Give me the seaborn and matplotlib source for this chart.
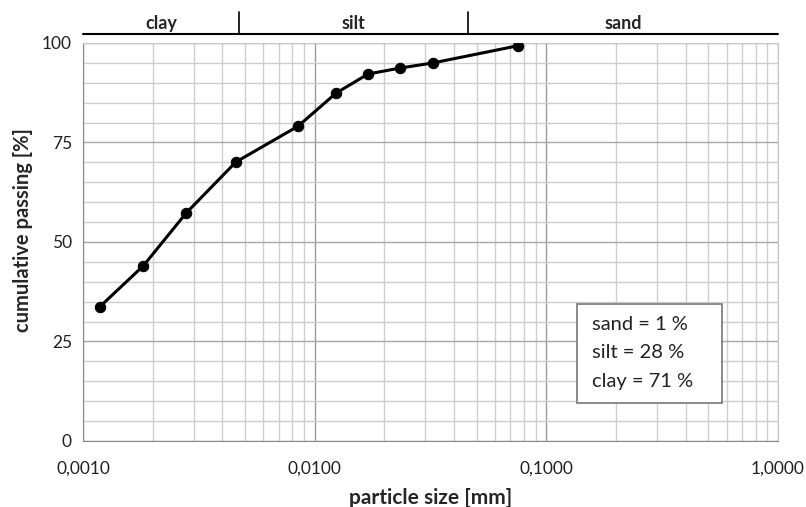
import matplotlib
matplotlib.use("Agg")
import matplotlib.pyplot as plt
import matplotlib.transforms as mtransforms
from matplotlib.patches import Rectangle
import numpy as np
import pandas as pd
import seaborn as sns
from matplotlib.ticker import FuncFormatter, LogLocator, MultipleLocator

# grain size distribution
size_mm = [0.00118, 0.00182, 0.00279, 0.00457, 0.00848, 0.01236, 0.01698, 0.02333, 0.03246, 0.0753]
passing = [33.7, 44.0, 57.3, 70.1, 79.1, 87.4, 92.2, 93.7, 95.0, 99.3]

fractions = ["clay", "silt", "sand"]
bounds = [0.001, 0.0047, 0.046, 1.0]
shares = {"sand": 1, "silt": 28, "clay": 71}

df = pd.DataFrame({"size": size_mm, "passing": passing})

sns.set_style("white")
plt.rcParams["font.family"] = ["Lato", "DejaVu Sans"]

fig = plt.figure(figsize=(8.06, 5.07), dpi=100)
ax = fig.add_axes([0.103, 0.1302, 0.8623, 0.785])

sns.lineplot(data=df, x="size", y="passing", ax=ax, color="black", linewidth=2.2,
             marker="o", markersize=7.5, markeredgecolor="black", zorder=5)

ax.set_xscale("log")
ax.set_xlim(0.001, 1.0)
ax.set_ylim(0, 100)

ax.xaxis.set_major_locator(LogLocator(base=10, numticks=10))
ax.xaxis.set_minor_locator(LogLocator(base=10, subs=np.arange(2, 10), numticks=20))
ax.xaxis.set_major_formatter(FuncFormatter(lambda v, p: f"{v:.4f}".replace(".", ",")))
ax.xaxis.set_minor_formatter(FuncFormatter(lambda v, p: ""))
ax.yaxis.set_major_locator(MultipleLocator(25))
ax.yaxis.set_minor_locator(MultipleLocator(5))

ax.grid(which="major", axis="x", color="#9a9a9a", linewidth=1.0)
ax.grid(which="minor", axis="x", color="#cfcfcf", linewidth=1.0)
ax.grid(which="major", axis="y", color="#a8a8a8", linewidth=1.0)
ax.grid(which="minor", axis="y", color="#cdcdcd", linewidth=1.0)
ax.set_axisbelow(True)

for s in ax.spines.values():
    s.set_color("#c8c8c8")
ax.spines["left"].set_color("#8a8a8a")
ax.spines["bottom"].set_color("#8a8a8a")

ax.tick_params(axis="both", which="major", labelsize=12.5, colors="#222222", length=4, color="#8a8a8a")
ax.tick_params(axis="y", which="major", length=0, pad=8)
ax.tick_params(axis="x", which="major", pad=10)
ax.tick_params(which="minor", length=0)

ax.set_xlabel("particle size [mm]", fontsize=15, fontweight="bold", labelpad=8)
ax.set_ylabel("cumulative passing [%]", fontsize=14.5, fontweight="bold")
ax.yaxis.set_label_coords(-0.0725, 0.53)

# fraction band above the plot
trans = mtransforms.blended_transform_factory(ax.transData, ax.transAxes)
ax.plot([bounds[0], bounds[-1]], [1.0226, 1.0226], transform=trans, color="black",
        linewidth=1.5, clip_on=False)
for b in bounds[1:-1]:
    ax.plot([b, b], [1.0226, 1.078], transform=trans, color="black", linewidth=1.2, clip_on=False)
for name, lo, hi in zip(fractions, bounds[:-1], bounds[1:]):
    ax.text(np.sqrt(lo * hi), 1.049, name, transform=trans, ha="center", va="center",
            fontsize=13, fontweight="bold")

# summary box
ax.add_patch(Rectangle((0.711, 0.0955), 0.2086, 0.2487, transform=ax.transAxes,
                       facecolor="white", edgecolor="#777777", linewidth=1.2, zorder=6))
for i, (k, v) in enumerate(shares.items()):
    ax.text(0.7324, 0.2915 - i * 0.0704, f"{k} = {v} %", transform=ax.transAxes,
            fontsize=14.5, va="center", ha="left", color="#222222", zorder=7)

fig.savefig("out.png", dpi=100)
